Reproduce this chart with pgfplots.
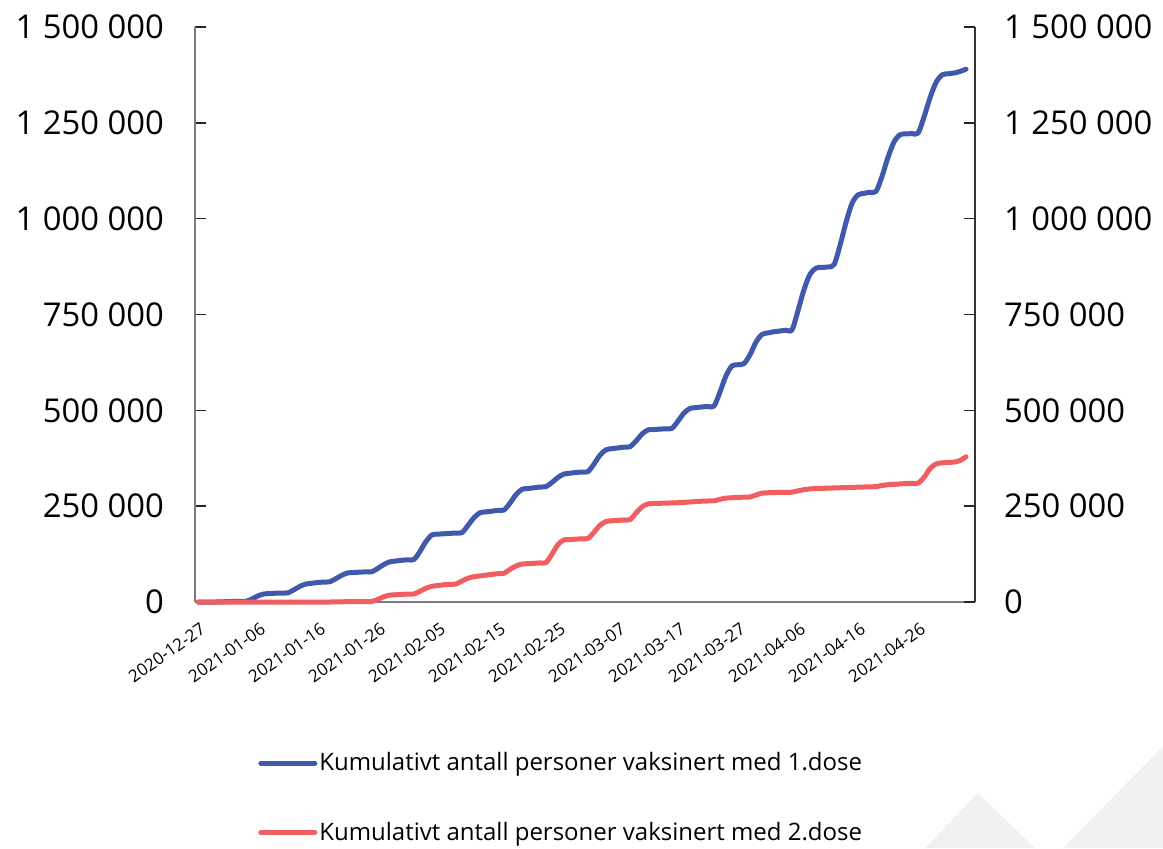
\documentclass[border=0pt]{standalone}
\usepackage{pgfplots}
\pgfplotsset{compat=1.18}
\usepackage{pgfplotstable}
\usepackage{fontspec}
\setmainfont{Open Sans}
\definecolor{dose1}{RGB}{65,89,170}
\definecolor{dose2}{RGB}{240,94,96}
\definecolor{axgray}{RGB}{125,125,125}
\definecolor{wm}{RGB}{241,241,241}
\pgfplotstableread{
day d1 d2
0 0 0
1 0 0
2 0 0
3 0 0
4 500 0
5 1000 0
6 1500 0
7 1600 0
8 2000 0
9 8000 0
10 16000 0
11 21000 0
12 22000 0
13 23000 0
14 23500 0
15 24000 0
16 32000 0
17 41000 0
18 47000 0
19 49000 0
20 51000 0
21 52000 0
22 53000 0
23 61000 300
24 70000 600
25 76000 900
26 77000 1000
27 78000 1200
28 78500 1300
29 79000 1500
30 88000 7000
31 98000 14000
32 105000 18000
33 107000 19000
34 109000 20000
35 110000 20500
36 111000 21000
37 132000 28000
38 158000 36000
39 175000 41000
40 177000 43000
41 178000 45000
42 179000 46000
43 180000 47000
44 181000 55000
45 200000 62000
46 220000 66000
47 233000 68000
48 235000 70000
49 237000 72000
50 239000 74000
51 240000 75000
52 258000 85000
53 280000 94000
54 294000 99000
55 296000 100000
56 298000 101000
57 300000 102000
58 301000 103000
59 312000 125000
60 325000 150000
61 334000 162000
62 336000 163000
63 338000 164000
64 339000 165000
65 340000 166000
66 360000 182000
67 383000 200000
68 397000 210000
69 400000 212000
70 402000 213000
71 404000 214000
72 405000 215000
73 420000 232000
74 438000 248000
75 449000 256000
76 450000 257000
77 451000 257500
78 452000 258000
79 453000 258500
80 472000 259000
81 493000 260000
82 505000 261000
83 507000 262000
84 509000 263000
85 510000 263500
86 511000 264000
87 548000 268000
88 590000 271000
89 616000 272000
90 619000 273000
91 622000 273500
92 645000 274000
93 678000 279000
94 698000 284000
95 702000 285000
96 705000 285500
97 707000 286000
98 709000 286000
99 710000 286500
100 760000 290000
101 815000 293000
102 855000 295000
103 871000 296000
104 873000 296500
105 874000 297000
106 880000 297500
107 930000 298000
108 990000 298500
109 1040000 299000
110 1062000 299500
111 1066000 300000
112 1069000 300500
113 1071000 301000
114 1110000 304000
115 1160000 306000
116 1200000 307000
117 1219000 308000
118 1221000 309000
119 1222000 309500
120 1223000 310000
121 1265000 325000
122 1315000 348000
123 1355000 360000
124 1375000 363000
125 1378000 364000
126 1380000 365000
127 1384000 369000
128 1390000 379000
}\vacc
\begin{document}
\begin{tikzpicture}
\useasboundingbox (-97.5pt,-123pt) rectangle (484pt,301pt);
\fill[wm] (365pt,-123pt) -- (391.5pt,-95.5pt) -- (420pt,-123pt) -- cycle;
\fill[wm] (434pt,-123pt) -- (484pt,-72pt) -- (484pt,-123pt) -- cycle;
\begin{axis}[
  at={(0,0)}, anchor=south west,
  scale only axis, width=390pt, height=287.5pt,
  xmin=-0.5, xmax=129.5, ymin=0, ymax=1500000,
  axis x line*=bottom, axis y line*=left,
  axis line style={axgray, line width=0.7pt},
  xtick={0,10,...,120},
  xticklabels={2020-12-27,2021-01-06,2021-01-16,2021-01-26,2021-02-05,2021-02-15,2021-02-25,2021-03-07,2021-03-17,2021-03-27,2021-04-06,2021-04-16,2021-04-26},
  xtick style={draw=none},
  x tick label style={rotate=35, anchor=north east, font=\fontsize{8.5}{10}\selectfont, inner sep=0pt, yshift=-8.5pt, xshift=-5pt},
  ytick={0,250000,500000,750000,1000000,1250000,1500000},
  yticklabels={0,250 000,500 000,750 000,1 000 000,1 250 000,1 500 000},
  scaled y ticks=false,
  y tick label style={font=\fontsize{16.4}{19}\selectfont, xshift=-12pt},
  tick align=inside, major tick length=5.5pt,
  ytick style={black!85, line width=0.7pt},
  clip=false,
  legend style={at={(0.073,-0.2475)}, anchor=north west, draw=none, fill=none,
    font=\fontsize{12}{14}\selectfont, row sep=20pt, cells={anchor=west},
    nodes={inner xsep=1pt}},
  legend image code/.code={\draw[#1, line width=2.5pt, line cap=round] (0pt,0pt) -- (27pt,0pt);},
]
\addplot[dose1, line width=2.5pt, smooth, line join=round, line cap=round] table[x=day,y=d1]{\vacc};
\addlegendentry{Kumulativt antall personer vaksinert med 1.dose}
\addplot[dose2, line width=2.5pt, smooth, line join=round, line cap=round] table[x=day,y=d2]{\vacc};
\addlegendentry{Kumulativt antall personer vaksinert med 2.dose}
\end{axis}
\begin{axis}[
  at={(0,0)}, anchor=south west,
  scale only axis, width=390pt, height=287.5pt,
  xmin=-0.5, xmax=129.5, ymin=0, ymax=1500000,
  axis x line=none, axis y line*=right,
  axis line style={black!80, line width=0.7pt},
  ytick={0,250000,500000,750000,1000000,1250000,1500000},
  yticklabels={0,250 000,500 000,750 000,1 000 000,1 250 000,1 500 000},
  scaled y ticks=false,
  y tick label style={font=\fontsize{16.4}{19}\selectfont, xshift=11pt},
  tick align=inside, major tick length=5.5pt,
  ytick style={black!85, line width=0.7pt},
]
\end{axis}
\end{tikzpicture}
\end{document}
